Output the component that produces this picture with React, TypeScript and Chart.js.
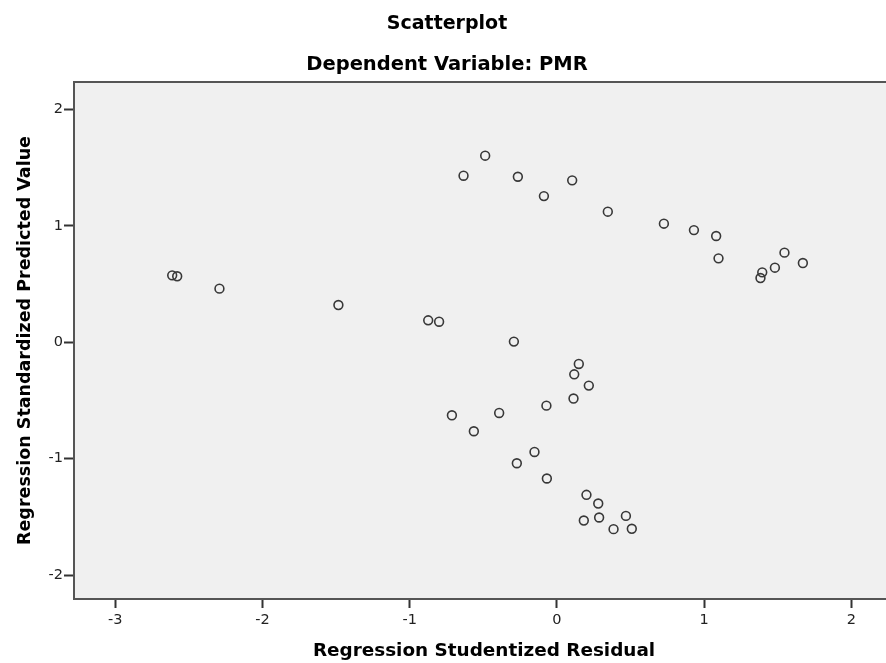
import React, { useEffect, useRef } from "react";
import { Chart, registerables } from "chart.js";

Chart.register(...registerables);

const titleText = "Scatterplot";
const subtitleText = "Dependent Variable: PMR";
const xAxisTitle = "Regression Studentized Residual";
const yAxisTitle = "Regression Standardized Predicted Value";

const xTickValues = [-3, -2, -1, 0, 1, 2];
const yTickValues = [-2, -1, 0, 1, 2];

const studentizedResidual = [
  -2.613, -2.579, -2.292,
  -0.487, -0.634, -0.265, -0.088, 0.104, -1.484, -0.874, -0.8, -0.292,
  0.346, 0.727, 0.931, 1.082, 1.098, 1.395, 1.383, 1.481, 1.546, 1.671,
  0.149, 0.118, 0.217, 0.113, -0.071, -0.392, -0.713, -0.564, -0.152, -0.272,
  -0.068, 0.201, 0.281, 0.183, 0.287, 0.469, 0.385, 0.509,
];

const standardizedPredicted = [
  0.575, 0.567, 0.461,
  1.603, 1.431, 1.422, 1.256, 1.391, 0.32, 0.189, 0.177, 0.006,
  1.122, 1.019, 0.964, 0.913, 0.721, 0.601, 0.552, 0.641, 0.77, 0.681,
  -0.186, -0.275, -0.372, -0.483, -0.544, -0.607, -0.627, -0.764, -0.942, -1.039,
  -1.17, -1.31, -1.385, -1.531, -1.505, -1.491, -1.605, -1.602,
];

const FONT = "'DejaVu Sans', sans-serif";

const framePlugin = {
  id: "spssFrame",
  beforeDatasetsDraw(chart: any) {
    const { ctx, chartArea } = chart;
    const { left, top, right, bottom } = chartArea;
    ctx.save();
    ctx.fillStyle = "#f0f0f0";
    ctx.fillRect(left, top, right - left, bottom - top);
    ctx.strokeStyle = "#555555";
    ctx.lineWidth = 2;
    ctx.beginPath();
    ctx.moveTo(right + 2, top);
    ctx.lineTo(left, top);
    ctx.lineTo(left, bottom);
    ctx.lineTo(right + 2, bottom);
    ctx.stroke();
    ctx.restore();
  },
};

export default function App() {
  const canvasRef = useRef<HTMLCanvasElement | null>(null);

  useEffect(() => {
    const canvas = canvasRef.current;
    if (!canvas) return;
    const points = studentizedResidual.map((x, i) => ({ x, y: standardizedPredicted[i] }));
    const chart = new Chart(canvas, {
      type: "scatter",
      data: {
        datasets: [
          {
            data: points,
            pointStyle: "circle",
            pointRadius: 4.4,
            pointHoverRadius: 4.4,
            pointBorderWidth: 1.6,
            pointBorderColor: "#383838",
            pointBackgroundColor: "rgba(0,0,0,0)",
            clip: false,
          },
        ],
      },
      options: {
        animation: false,
        responsive: false,
        devicePixelRatio: 1,
        events: [],
        layout: { padding: 0, autoPadding: false },
        plugins: {
          legend: { display: false },
          tooltip: { enabled: false },
          title: {
            display: true,
            text: titleText,
            color: "#000",
            font: { family: FONT, size: 19, weight: "bold", lineHeight: 1.2 },
            padding: { top: 12.6, bottom: 9 },
          },
          subtitle: {
            display: true,
            text: subtitleText,
            color: "#000",
            font: { family: FONT, size: 19.5, weight: "bold", lineHeight: 1.2 },
            padding: { top: 8.9, bottom: 5.3 },
          },
        },
        scales: {
          x: {
            type: "linear",
            min: -3.28,
            max: 2.29,
            afterBuildTicks: (scale: any) => {
              scale.ticks = xTickValues.map((v) => ({ value: v }));
            },
            afterFit: (scale: any) => {
              scale.height = 64;
              scale.paddingLeft = 0;
              scale.paddingRight = 0;
            },
            grid: {
              display: true,
              drawOnChartArea: false,
              drawTicks: true,
              tickLength: 9,
              tickColor: "#333",
              tickWidth: 2,
            },
            border: { display: false },
            ticks: {
              color: "#222",
              padding: 3.5,
              maxRotation: 0,
              font: { family: FONT, size: 14.5 },
            },
            title: {
              display: true,
              text: xAxisTitle,
              color: "#000",
              font: { family: FONT, size: 18.4, weight: "bold", lineHeight: 1.2 },
              padding: { top: 0, bottom: 1 },
            },
          },
          y: {
            type: "linear",
            min: -2.205,
            max: 2.236,
            afterBuildTicks: (scale: any) => {
              scale.ticks = yTickValues.map((v) => ({ value: v }));
            },
            afterFit: (scale: any) => {
              scale.width = 74;
              scale.paddingTop = 0;
              scale.paddingBottom = 0;
            },
            grid: {
              display: true,
              drawOnChartArea: false,
              drawTicks: true,
              tickLength: 10,
              tickColor: "#333",
              tickWidth: 2,
            },
            border: { display: false },
            ticks: {
              color: "#222",
              padding: 1,
              font: { family: FONT, size: 14.5 },
            },
            title: {
              display: true,
              text: yAxisTitle,
              color: "#000",
              font: { family: FONT, size: 17.5, weight: "bold", lineHeight: 1.2 },
              padding: { top: 14.5, bottom: 0 },
            },
          },
        },
      },
      plugins: [framePlugin],
    });
    return () => chart.destroy();
  }, []);

  return (
    <div
      style={{
        position: "fixed",
        left: 0,
        top: 0,
        width: 886,
        height: 663,
        overflow: "hidden",
        background: "#ffffff",
      }}
    >
      <canvas ref={canvasRef} width={894} height={663} style={{ display: "block" }} />
    </div>
  );
}
